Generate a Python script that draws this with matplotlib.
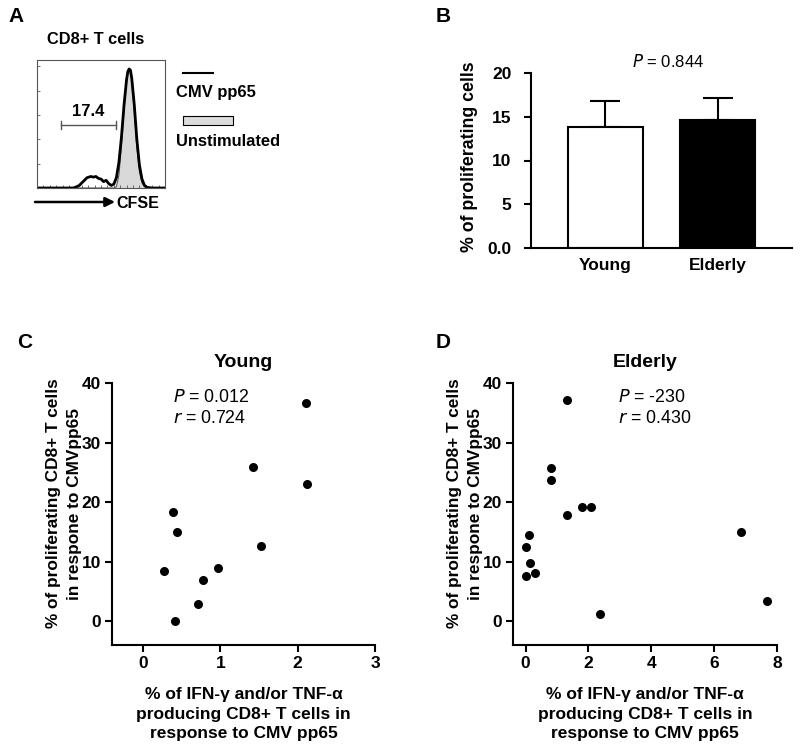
import matplotlib
matplotlib.use("Agg")
import matplotlib.pyplot as plt
from matplotlib.patches import Rectangle

plt.rcParams['font.family'] = ['Liberation Sans', 'DejaVu Sans']
plt.rcParams['axes.linewidth'] = 1.5

# --- panel A: CFSE histogram (channel in % of scale, counts in % of max)
cfse_x = [0, 28, 30, 33, 36, 39, 42, 44, 46, 48, 50, 52, 54, 56, 58, 60, 62, 64,
          66, 68, 70, 71, 72, 73, 74, 76, 78, 80, 82, 84, 86, 90, 100]
cmv_counts = [0, 0, 0.5, 2, 5, 8, 9, 8.5, 9, 7.5, 7, 5, 6, 3.5, 2, 3, 8, 20,
              40, 65, 85, 91, 93, 92, 86, 65, 38, 18, 7, 2, 0.5, 0, 0]
unstim_counts = [0, 0, 0, 0, 0, 0, 0, 0, 0, 0, 0, 0, 0, 0, 0, 0, 1, 10,
                 33, 60, 83, 90, 92, 90, 83, 60, 32, 13, 4, 1, 0, 0, 0]
gate = [19, 61.5]
gate_value = "17.4"

# --- panel B: mean +/- SEM
groups = ["Young", "Elderly"]
prolif_mean = [13.8, 14.6]
prolif_sem = [3.0, 2.6]
b_ticks = [0, 5, 10, 15, 20]
b_ticklabels = ["0.0", "5", "10", "15", "20"]

# --- panel C: young
young_cyt = [2.11, 1.42, 2.12, 0.39, 0.44, 1.52, 0.27, 0.97, 0.78, 0.71, 0.42]
young_prolif = [36.6, 25.9, 23.1, 18.4, 14.9, 12.6, 8.4, 9.0, 6.9, 2.9, 0.1]

# --- panel D: elderly
old_cyt = [1.32, 0.82, 0.82, 1.33, 1.78, 2.08, 6.85, 0.11, 0.02, 0.13, 0.02, 0.29, 2.37, 7.68]
old_prolif = [37.1, 25.8, 23.7, 17.8, 19.2, 19.2, 14.9, 14.5, 12.5, 9.7, 7.6, 8.1, 1.2, 3.4]

ylab = "% of proliferating CD8+ T cells\nin respone to CMVpp65"
xlab = "% of IFN-\u03b3 and/or TNF-\u03b1\nproducing CD8+ T cells in\nresponse to CMV pp65"

W, H = 800, 750
fig = plt.figure(figsize=(8, 7.5), dpi=100)


def rect(l, t, r, b):
    return [l / W, 1 - b / H, (r - l) / W, (b - t) / H]


# ---------------- A
axA = fig.add_axes(rect(37, 60, 165, 188))
axA.fill_between(cfse_x, unstim_counts, color="#d9d9d9", lw=0)
axA.plot(cfse_x, unstim_counts, color="#555555", lw=0.8)
axA.plot(cfse_x, cmv_counts, color="black", lw=2)
axA.set_xlim(0, 100)
axA.set_ylim(0, 100)
for s in axA.spines.values():
    s.set_linewidth(0.8)
    s.set_color("#555555")
axA.set_xticks(range(0, 101, 5))
axA.set_yticks(range(0, 101, 19))
axA.tick_params(direction="in", length=2, width=0.6, labelbottom=False, labelleft=False,
                colors="#555555")
axA.plot(gate, [49, 49], color="#555555", lw=1)
axA.plot([gate[0]] * 2, [46, 52], color="#555555", lw=1)
axA.plot([gate[1]] * 2, [46, 52], color="#555555", lw=1)
axA.text(sum(gate) / 2, 54, gate_value, ha="center", va="bottom", fontsize=12, fontweight="bold")

fig.text(8 / W, 1 - 16 / H, "A", fontsize=15, fontweight="bold", va="center")
fig.text(47 / W, 1 - 40 / H, "CD8+ T cells", fontsize=11.8, fontweight="bold", va="center")
fig.add_artist(plt.Line2D([183 / W, 213 / W], [1 - 73 / H] * 2, color="black", lw=1.5))
fig.text(176 / W, 1 - 92 / H, "CMV pp65", fontsize=11.9, fontweight="bold", va="center")
fig.add_artist(Rectangle((183 / W, 1 - 125 / H), 50 / W, 9 / H, facecolor="#dcdcdc",
                         edgecolor="black", lw=0.8, transform=fig.transFigure))
fig.text(176 / W, 1 - 142 / H, "Unstimulated", fontsize=11.9, fontweight="bold", va="center")
axA.annotate("", xy=(115 / W, 1 - 202 / H), xytext=(35 / W, 1 - 202 / H),
             xycoords="figure fraction", annotation_clip=False,
             arrowprops=dict(arrowstyle="-|>", color="black", lw=1.8, mutation_scale=14,
                             shrinkA=0, shrinkB=0))
fig.text(116 / W, 1 - 203 / H, "CFSE", fontsize=11.5, fontweight="bold", va="center")

# ---------------- B
axB = fig.add_axes(rect(531, 73, 792, 248))
xpos = [0, 1]
axB.bar(xpos, prolif_mean, width=0.67, color=["white", "black"], edgecolor="black", lw=1.5,
        zorder=2)
axB.errorbar(xpos, prolif_mean, yerr=[[0, 0], prolif_sem], fmt="none", ecolor="black",
             elinewidth=1.5, capsize=11, capthick=1.5, zorder=1)
axB.set_xlim(-0.66, 1.66)
axB.set_ylim(0, 20)
axB.set_yticks(b_ticks)
axB.set_yticklabels(b_ticklabels)
axB.set_xticks(xpos)
axB.set_xticklabels(groups)
axB.spines[["top", "right"]].set_visible(False)
axB.tick_params(axis="y", length=5, width=1.5, labelsize=12.5, pad=9)
axB.tick_params(axis="x", length=0, labelsize=12.5, pad=7)
for lab in axB.get_xticklabels() + axB.get_yticklabels():
    lab.set_fontweight("bold")
axB.set_ylabel("% of proliferating cells", fontsize=12.8, fontweight="bold")
axB.yaxis.set_label_coords(-0.203, 0.52)
axB.text(0.525, 1.063, "$\\it{P}$ = 0.844", transform=axB.transAxes, ha="center", va="center",
         fontsize=12)
fig.text(443 / W, 1 - 16 / H, "B", fontsize=15, fontweight="bold", va="center", ha="center")


# ---------------- C and D
def scatter_panel(ax, x, y, xlim, xticks, title, pval, rval, tx):
    ax.scatter(x, y, s=30, color="black", zorder=3, clip_on=False)
    ax.set_xlim(*xlim)
    ax.set_ylim(-4, 40)
    ax.set_xticks(xticks)
    ax.set_yticks([0, 10, 20, 30, 40])
    ax.spines[["top", "right"]].set_visible(False)
    ax.spines["left"].set_bounds(-4, 40)
    ax.tick_params(length=5, width=1.5, labelsize=12.5, pad=3)
    for lab in ax.get_xticklabels() + ax.get_yticklabels():
        lab.set_fontweight("bold")
    ax.set_ylabel(ylab, fontsize=12.4, fontweight="bold", linespacing=1.5)
    ax.yaxis.set_label_coords(-0.115, 0.54)
    ax.set_xlabel(xlab, fontsize=12.5, fontweight="bold", linespacing=1.35)
    ax.xaxis.set_label_coords(0.5, -0.162)
    ax.xaxis.label.set_va("top")
    ax.text(0.5, 1.08, title, transform=ax.transAxes, ha="center", va="center",
            fontsize=14, fontweight="bold")
    ax.text(tx, 0.943, "$\\it{P}$ = " + pval, transform=ax.transAxes, va="center", fontsize=12.8)
    ax.text(tx, 0.863, "$\\it{r}$ = " + rval, transform=ax.transAxes, va="center", fontsize=12.8)


axC = fig.add_axes(rect(112, 383, 375, 645))
scatter_panel(axC, young_cyt, young_prolif, (-0.4, 3), [0, 1, 2, 3], "Young",
              "0.012", "0.724", 0.232)
fig.text(25 / W, 1 - 343 / H, "C", fontsize=15, fontweight="bold", va="center", ha="center")

axD = fig.add_axes(rect(513, 383, 777, 645))
scatter_panel(axD, old_cyt, old_prolif, (-0.4, 8), [0, 2, 4, 6, 8], "Elderly",
              "-230", "0.430", 0.398)
fig.text(443 / W, 1 - 343 / H, "D", fontsize=15, fontweight="bold", va="center", ha="center")

fig.savefig("out.png", dpi=100)
